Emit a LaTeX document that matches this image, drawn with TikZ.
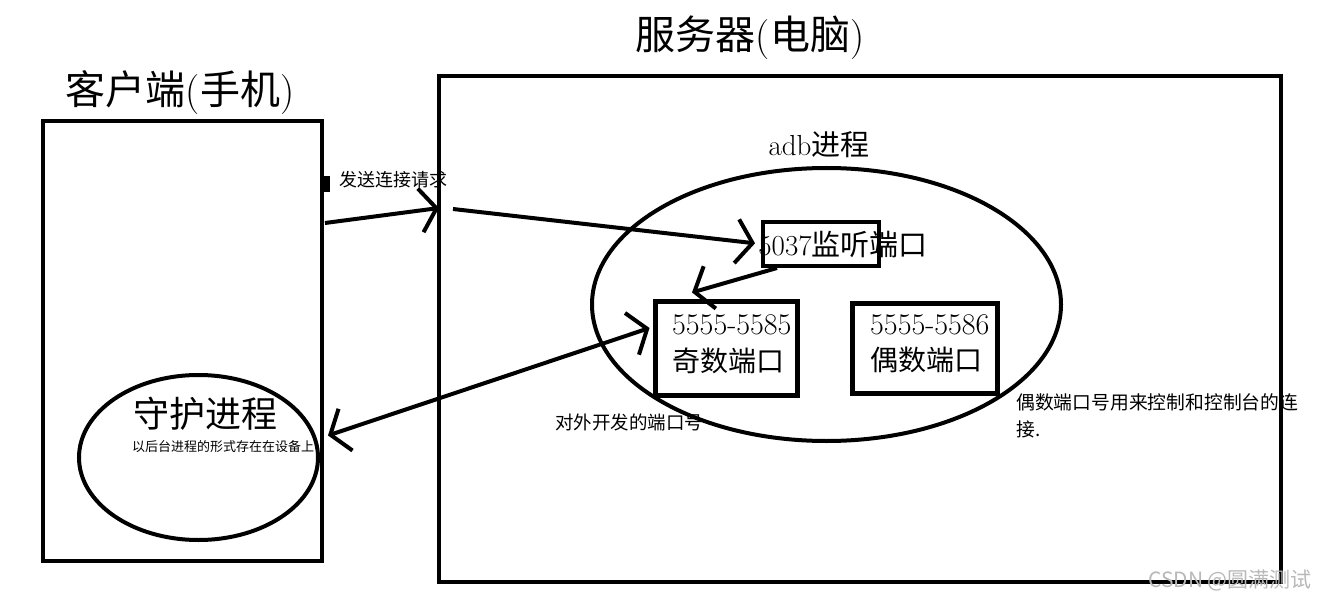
\documentclass[tikz,border=0pt]{standalone}
\usepackage{fontspec}
\newfontfamily\cjk{Noto Sans CJK SC}
\usetikzlibrary{arrows.meta,shapes.geometric}
\tikzset{
  frame/.style={draw, line width=4pt, inner sep=0pt},
  oval/.style={draw, ellipse, line width=4pt, inner sep=0pt},
  txt/.style={inner sep=0pt},
  barb/.style={line width=4pt, -{Straight Barb[length=16pt,width=44pt]}},
  dbarb/.style={line width=4pt, {Straight Barb[length=16pt,width=44pt]}-{Straight Barb[length=16pt,width=44pt]}},
}
\begin{document}
\begin{tikzpicture}[x=1pt, y=-1pt]
    \useasboundingbox (0,0) rectangle (1317,604);
    % frames
    \node (client) [frame, minimum width=279pt, minimum height=440pt] at (182.5,341) {};
    \node (server) [frame, minimum width=842pt, minimum height=506pt] at (860,329) {};
    \node (adb) [oval, minimum width=469pt, minimum height=273pt] at (826.5,304.5) {};
    \node (daemon) [oval, minimum width=239pt, minimum height=165pt] at (198.5,457.5) {};
    \node (listen) [frame, minimum width=116pt, minimum height=44pt] at (821,244) {};
    \node (odd) [frame, line width=5pt, minimum width=142pt, minimum height=94pt] at (726,348) {};
    \node (even) [frame, line width=5pt, minimum width=145pt, minimum height=90pt] at (924.5,348) {};
    % titles
    \node (clientT) [txt, font=\fontsize{40}{40}\selectfont] at (180,93) {{\cjk 客户端}({\cjk 手机})};
    \node (serverT) [txt, font=\fontsize{40}{40}\selectfont] at (750,38) {{\cjk 服务器}({\cjk 电脑})};
    \node (adbT) [txt, font=\fontsize{29}{29}\selectfont] at (819,145) {adb\cjk 进程};
    \node (listenT) [txt, font=\fontsize{29}{29}\selectfont] at (843,245) {5037\cjk 监听端口};
    \node (oddA) [txt, anchor=west, font=\fontsize{30}{30}\selectfont] at (672,325) {5555-5585};
    \node (oddB) [txt, anchor=west, font=\fontsize{28}{28}\selectfont\cjk] at (672,361) {奇数端口};
    \node (evenA) [txt, anchor=west, font=\fontsize{30}{30}\selectfont] at (870,325) {5555-5586};
    \node (evenB) [txt, anchor=west, font=\fontsize{28}{28}\selectfont\cjk] at (870,360) {偶数端口};
    \node (daemonT) [txt, font=\fontsize{36}{36}\selectfont\cjk] at (205,414) {守护进程};
    \node (daemonS) [txt, anchor=west, font=\fontsize{13}{13}\selectfont\cjk] at (132,447) {以后台进程的形式存在在设备上};
    \node (sendT) [txt, anchor=west, font=\fontsize{18}{18}\selectfont\cjk] at (339,180) {发送连接请求};
    \node (openT) [txt, anchor=west, font=\fontsize{18.5}{18.5}\selectfont\cjk] at (555,422) {对外开发的端口号};
    \node (evenN) [txt, anchor=north west, align=left, font=\fontsize{18.8}{27}\selectfont\cjk] at (1016,393) {偶数端口号用来控制和控制台的连\\接.};
    \node (mark) [txt, anchor=east, text=black!28, font=\fontsize{21}{21}\selectfont\cjk] at (1312,580) {CSDN @圆满测试};
    % connectors
    \coordinate (sendA) at (325,223);
    \coordinate (gate) at (439,208);
    \coordinate (gateB) at (453,209);
    \fill (322,176) rectangle (330,192);
    \draw[barb] (sendA) to (gate);
    \draw[barb, shorten >=6pt] (gateB) to (listen.west);
    \draw[barb] ([xshift=-44pt]listen.south) to ([xshift=-34pt,yshift=6pt]odd.north);
    \draw[dbarb] ([xshift=8pt,yshift=22pt]daemon.east) to ([xshift=-3pt,yshift=20pt]odd.west);
\end{tikzpicture}
\end{document}
